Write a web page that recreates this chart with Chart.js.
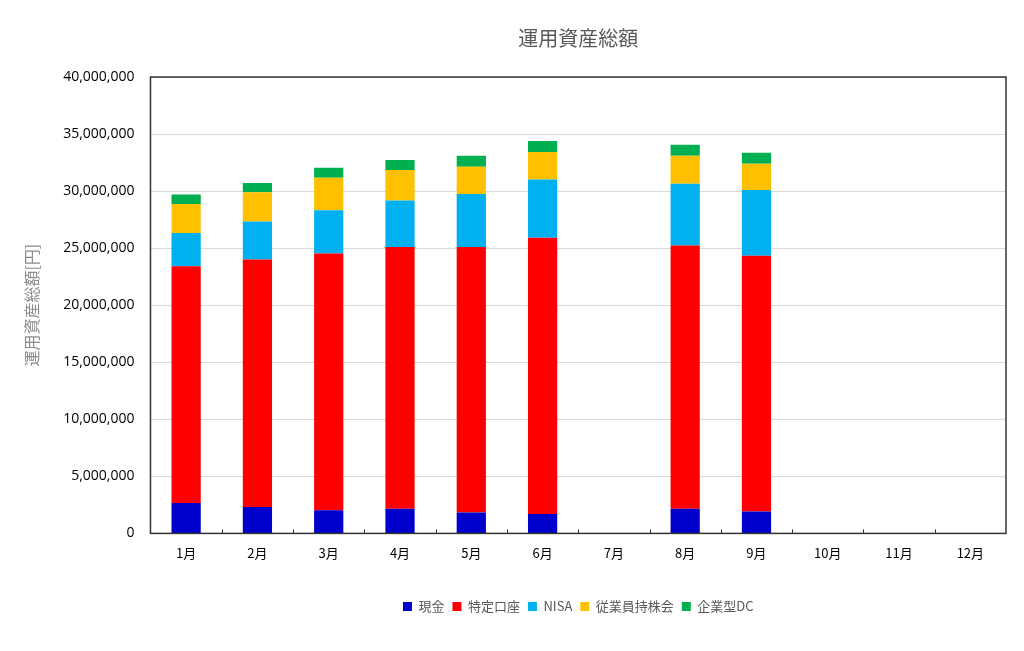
<!DOCTYPE html>
<html>
<head>
<meta charset="utf-8">
<script src="https://cdn.jsdelivr.net/npm/chart.js@4/dist/chart.umd.min.js"></script>
<style>
  html, body { margin: 0; padding: 0; background: #fff; }
  #wrap { width: 1024px; height: 651px; }
</style>
</head>
<body>
<div id="wrap"><canvas id="chart" width="1024" height="651"></canvas></div>
<script>
// --- DATA ---
const months = ['1月', '2月', '3月', '4月', '5月', '6月', '7月', '8月', '9月', '10月', '11月', '12月'];
const cash     = [2660000, 2310000, 2020000, 2160000, 1840000, 1690000, null, 2160000, 1930000, null, null, null];
const tokutei  = [20760000, 21700000, 22510000, 22930000, 23250000, 24220000, null, 23080000, 22400000, null, null, null];
const nisa     = [2900000, 3330000, 3800000, 4090000, 4650000, 5110000, null, 5400000, 5760000, null, null, null];
const mochikabu = [2540000, 2570000, 2840000, 2660000, 2390000, 2400000, null, 2460000, 2310000, null, null, null];
const dc       = [850000, 790000, 880000, 880000, 970000, 970000, null, 960000, 960000, null, null, null];

const JP_FONT = '"Noto Sans CJK JP", "Noto Sans", sans-serif';

// frame around the plot + small inward ticks between months
const framePlugin = {
    id: 'frame',
    afterDraw(chart) {
        const { ctx, chartArea: a, scales } = chart;
        const x = scales.x;
        ctx.save();
        ctx.strokeStyle = '#333';
        ctx.lineWidth = 1.5;
        ctx.strokeRect(a.left, a.top, a.right - a.left, a.bottom - a.top);
        ctx.lineWidth = 1;
        const step = x.getPixelForValue(1) - x.getPixelForValue(0);
        for (let i = 1; i < months.length; i++) {
            const px = Math.round(x.getPixelForValue(i) - step / 2) + 0.5;
            ctx.beginPath();
            ctx.moveTo(px, a.bottom);
            ctx.lineTo(px, a.bottom - 4);
            ctx.stroke();
        }
        ctx.restore();
    }
};

const mk = (label, data, color) => ({
    label, data,
    backgroundColor: color,
    borderWidth: 0,
    barPercentage: 0.41,
    categoryPercentage: 1
});

new Chart(document.getElementById('chart'), {
    type: 'bar',
    data: {
        labels: months,
        datasets: [
            mk('現金', cash, '#0000CC'),
            mk('特定口座', tokutei, '#FF0000'),
            mk('NISA', nisa, '#00B0F0'),
            mk('従業員持株会', mochikabu, '#FFC000'),
            mk('企業型DC', dc, '#00B050')
        ]
    },
    options: {
        responsive: false,
        animation: false,
        layout: { padding: { left: 22, right: 18, top: 26, bottom: 28 } },
        plugins: {
            title: {
                display: true,
                text: '運用資産総額',
                fullSize: false,
                color: '#595959',
                font: { family: JP_FONT, size: 20, weight: 'normal' },
                padding: { top: 0, bottom: 27 }
            },
            legend: {
                position: 'bottom',
                fullSize: false,
                labels: {
                    color: '#595959',
                    boxWidth: 9,
                    boxHeight: 9,
                    padding: 8,
                    font: { family: JP_FONT, size: 13 }
                }
            },
            tooltip: { enabled: false }
        },
        scales: {
            x: {
                stacked: true,
                grid: { display: false },
                border: { display: false },
                ticks: { color: '#000', padding: 4, font: { family: JP_FONT, size: 13 } },
                afterFit(scale) { scale.height += 27; }
            },
            y: {
                stacked: true,
                min: 0,
                max: 40000000,
                ticks: {
                    stepSize: 5000000,
                    color: '#000',
                    padding: 16,
                    font: { family: '"Open Sans", sans-serif', size: 14 },
                    callback: v => v.toLocaleString('en-US')
                },
                grid: { color: '#d9d9d9', drawTicks: false },
                border: { display: false },
                title: {
                    display: true,
                    text: '運用資産総額[円]',
                    color: '#8c8c8c',
                    font: { family: JP_FONT, size: 16 },
                    padding: { top: 0, bottom: 6 }
                }
            }
        }
    },
    plugins: [framePlugin]
});
</script>
</body>
</html>
